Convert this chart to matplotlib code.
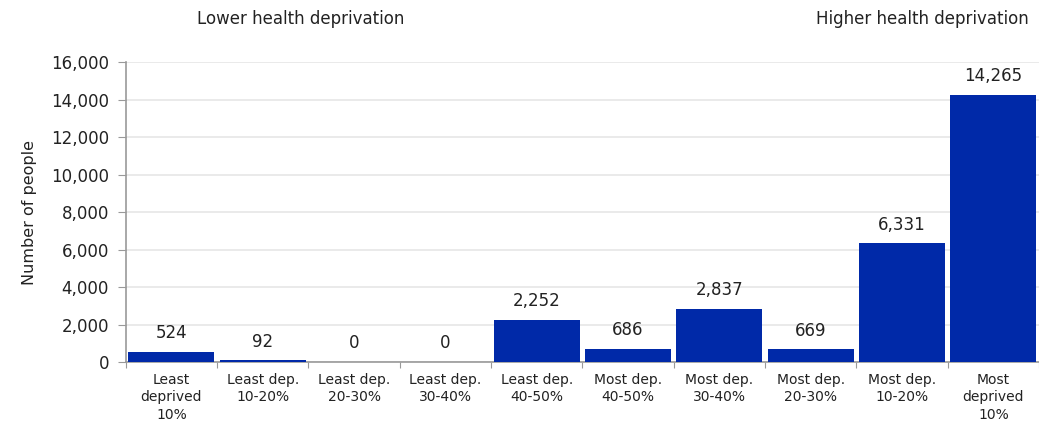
import matplotlib.pyplot as plt
from matplotlib.ticker import FuncFormatter

# categories and counts
categories = ['Least\ndeprived\n10%', 'Least dep.\n10-20%', 'Least dep.\n20-30%',
              'Least dep.\n30-40%', 'Least dep.\n40-50%', 'Most dep.\n40-50%',
              'Most dep.\n30-40%', 'Most dep.\n20-30%', 'Most dep.\n10-20%',
              'Most\ndeprived\n10%']
people = [524, 92, 0, 0, 2252, 686, 2837, 669, 6331, 14265]
y_ticks = [0, 2000, 4000, 6000, 8000, 10000, 12000, 14000, 16000]

plt.rcParams['font.family'] = ['DejaVu Sans']

fig = plt.figure(figsize=(10.39, 4.32), dpi=100)
ax = fig.add_axes([0.121, 0.162, 0.879, 0.694])

x = range(len(categories))
ax.bar(x, people, width=0.94, color='#0029A8', zorder=3)

for i, v in enumerate(people):
    ax.annotate(f'{v:,}', (i, v), xytext=(0, 7), textcoords='offset points',
                ha='center', va='bottom', fontsize=12, color='#222222')

ax.set_xlim(-0.5, len(categories) - 0.5)
ax.set_ylim(0, 16000)
ax.set_yticks(y_ticks)
ax.yaxis.set_major_formatter(FuncFormatter(lambda v, p: f'{int(v):,}'))
# ticks sit between categories, labels centred under the bars
ax.set_xticks([i + 0.5 for i in range(-1, len(categories))], minor=False)
ax.set_xticklabels([])
ax.set_xticks(list(x), minor=True)
ax.set_xticklabels(categories, minor=True, fontsize=10, color='#222222', linespacing=1.3)
ax.tick_params(axis='x', which='minor', length=0, pad=8)
ax.tick_params(axis='x', which='major', length=4, color='#999999')
ax.tick_params(axis='y', length=6, color='#999999', labelsize=12, labelcolor='#222222', pad=6)

ax.grid(axis='y', color='#e6e6e6', linewidth=1.2, zorder=0)
for s in ['top', 'right']:
    ax.spines[s].set_visible(False)
for s in ['left', 'bottom']:
    ax.spines[s].set_color('#999999')
    ax.spines[s].set_linewidth(1.2)

ax.set_ylabel('Number of people', fontsize=11.5, color='#222222', labelpad=10)

fig.text(0.289, 0.955, 'Lower health deprivation', ha='center', va='center',
         fontsize=12, color='#222222')
fig.text(0.99, 0.955, 'Higher health deprivation', ha='right', va='center',
         fontsize=12, color='#222222')

plt.savefig('out.png', dpi=100)
